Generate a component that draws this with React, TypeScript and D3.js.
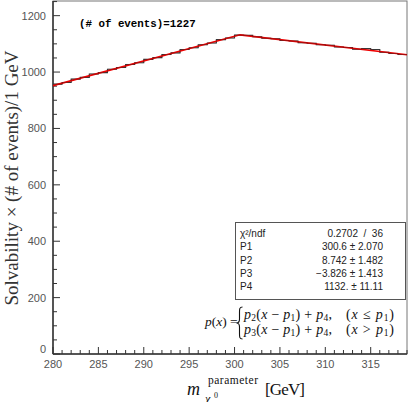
import React from "react";
import * as d3 from "d3";

const binEdgesStart = 280;
const binWidth = 1;
const histValues = [957, 963, 975, 981, 993, 998, 1010, 1016, 1027, 1033, 1045, 1051, 1062, 1068, 1080, 1086, 1097, 1103, 1115, 1121, 1131, 1130, 1125, 1120, 1118, 1112, 1110, 1104, 1102, 1097, 1095, 1089, 1087, 1081, 1083, 1080, 1070, 1066, 1062];
const fitParams = { p1: 300.6, p2: 8.742, p3: -3.826, p4: 1132 };
const xTicks = [280, 285, 290, 295, 300, 305, 310, 315];
const yTicks = [0, 200, 400, 600, 800, 1000, 1200];
const statsLabels = ["χ²/ndf", "P1", "P2", "P3", "P4"];
const statsValues = ["0.2702  /  36", "300.6 ± 2.070", "8.742 ± 1.482", "−3.826 ± 1.413", "1132. ± 11.11"];
const eventsText = "(# of events)=1227";

const W = 409, H = 402;
const L = 53, R = 407, T = 1, B = 354;

export default function App() {
  const x = d3.scaleLinear().domain([280, 319]).range([L, R]);
  const y = d3.scaleLinear().domain([0, 1252]).range([B, T]);

  let hp = "";
  histValues.forEach((v, i) => {
    const x0 = x(binEdgesStart + i * binWidth);
    const x1 = x(binEdgesStart + (i + 1) * binWidth);
    hp += (i === 0 ? `M${x0},${y(v)}` : `L${x0},${y(v)}`) + `L${x1},${y(v)}`;
  });

  const fit = (t: number) =>
    t <= fitParams.p1
      ? fitParams.p2 * (t - fitParams.p1) + fitParams.p4
      : fitParams.p3 * (t - fitParams.p1) + fitParams.p4;
  const fitPts: [number, number][] = [280, fitParams.p1, 319].map((t) => [x(t), y(fit(t))]);
  const fitPath = d3.line()(fitPts) || "";

  const xMinor = d3.range(280, 320, 1);
  const yMinor = d3.range(0, 1251, 50);

  const tickColor = "#333";
  const labelFont = "'Liberation Sans', Arial, sans-serif";
  const serif = "'Liberation Serif', 'Times New Roman', serif";
  const sub = 9.5;

  const bx = 239.5, bTop = 307, bBot = 339, bMid = (bTop + bBot) / 2;
  const brace = `M${bx + 3},${bTop} C${bx},${bTop} ${bx},${bTop + 2} ${bx},${bTop + 5} L${bx},${bMid - 4} C${bx},${bMid - 1} ${bx - 1},${bMid} ${bx - 3},${bMid} C${bx - 1},${bMid} ${bx},${bMid + 1} ${bx},${bMid + 4} L${bx},${bBot - 5} C${bx},${bBot - 2} ${bx},${bBot} ${bx + 3},${bBot}`;

  return (
    <svg width={W} height={H} style={{ position: "absolute", left: 0, top: 0, background: "#fff" }}>
      <rect x={L} y={T} width={R - L} height={B - T} fill="none" stroke="#777" strokeWidth={1} />
      {xMinor.map((t) => {
        const major = t % 5 === 0;
        return <line key={"xm" + t} x1={x(t)} x2={x(t)} y1={B} y2={B - (major ? 7 : 4)} stroke={tickColor} strokeWidth={1} />;
      })}
      {yMinor.map((t) => {
        const major = t % 200 === 0;
        return <line key={"ym" + t} x1={L} x2={L + (major ? 7 : 4)} y1={y(t)} y2={y(t)} stroke={tickColor} strokeWidth={1} />;
      })}
      <line x1={L} x2={R} y1={B} y2={B} stroke="#333" strokeWidth={1.5} />
      <line x1={L} x2={L} y1={T} y2={B} stroke="#333" strokeWidth={1.5} />
      {xTicks.map((t) => (
        <text key={"xl" + t} x={x(t)} y={368} textAnchor="middle" fontFamily={labelFont} fontSize={11} fill="#555">
          {t}
        </text>
      ))}
      {yTicks.map((t) => (
        <text key={"yl" + t} x={46} y={t === 0 ? y(t) - 1 : y(t) + 4} textAnchor="end" fontFamily={labelFont} fontSize={11} fill="#555">
          {t}
        </text>
      ))}
      <path d={hp} fill="none" stroke="#444" strokeWidth={1.1} />
      <path d={fitPath} fill="none" stroke="#e00" strokeWidth={1.6} />
      <path d={hp} fill="none" stroke="#222" strokeWidth={0.6} opacity={0.6} />
      <text x={79} y={27} fontFamily="'Liberation Mono', 'Courier New', monospace" fontWeight="bold" fontSize={10.8} fill="#000">
        {eventsText}
      </text>
      <rect x={235.5} y={222.5} width={170} height={77} fill="#fff" stroke="#555" strokeWidth={1} />
      {statsLabels.map((s, i) => (
        <text key={"sl" + i} x={240} y={237 + i * 13.3} fontFamily={labelFont} fontSize={10} fill="#222">
          {s}
        </text>
      ))}
      {statsValues.map((s, i) => (
        <text key={"sv" + i} x={383} y={237 + i * 13.3} textAnchor="end" fontFamily={labelFont} fontSize={10} fill="#222" style={{ whiteSpace: "pre" }}>
          {s}
        </text>
      ))}
      <g fontFamily={serif} fontSize={14} fill="#111">
        <text x={205} y={326} fontSize={13.5}>
          <tspan fontStyle="italic">p</tspan>(<tspan fontStyle="italic">x</tspan>) =
        </text>
        <path d={brace} fill="none" stroke="#111" strokeWidth={1.1} />
        <text x={244} y={319} textLength={88} lengthAdjust="spacing">
          <tspan fontStyle="italic">p</tspan>
          <tspan fontSize={sub} dy={2}>2</tspan>
          <tspan dy={-2}>(</tspan>
          <tspan fontStyle="italic">x</tspan> − <tspan fontStyle="italic">p</tspan>
          <tspan fontSize={sub} dy={2}>1</tspan>
          <tspan dy={-2}>) + </tspan>
          <tspan fontStyle="italic">p</tspan>
          <tspan fontSize={sub} dy={2}>4</tspan>
          <tspan dy={-2}>,</tspan>
        </text>
        <text x={346} y={319} textLength={48} lengthAdjust="spacing">
          (<tspan fontStyle="italic">x</tspan> ≤ <tspan fontStyle="italic">p</tspan>
          <tspan fontSize={sub} dy={2}>1</tspan>
          <tspan dy={-2}>)</tspan>
        </text>
        <text x={244} y={334} textLength={88} lengthAdjust="spacing">
          <tspan fontStyle="italic">p</tspan>
          <tspan fontSize={sub} dy={2}>3</tspan>
          <tspan dy={-2}>(</tspan>
          <tspan fontStyle="italic">x</tspan> − <tspan fontStyle="italic">p</tspan>
          <tspan fontSize={sub} dy={2}>1</tspan>
          <tspan dy={-2}>) + </tspan>
          <tspan fontStyle="italic">p</tspan>
          <tspan fontSize={sub} dy={2}>4</tspan>
          <tspan dy={-2}>,</tspan>
        </text>
        <text x={346} y={334} textLength={48} lengthAdjust="spacing">
          (<tspan fontStyle="italic">x</tspan> &gt; <tspan fontStyle="italic">p</tspan>
          <tspan fontSize={sub} dy={2}>1</tspan>
          <tspan dy={-2}>)</tspan>
        </text>
      </g>
      <text transform="translate(18,178) rotate(-90)" textAnchor="middle" fontFamily={serif} fontSize={19} fill="#333" style={{ whiteSpace: "pre" }}>
        {"Solvability × (# of events)/1 GeV"}
      </text>
      <g fontFamily={serif} fill="#111">
        <text x={187} y={395} fontSize={18} fontStyle="italic">m</text>
        <text x={205} y={403} fontSize={12} fontStyle="italic">χ</text>
        <text x={214} y={398} fontSize={8}>0</text>
        <text x={208} y={384} fontSize={11.5} textLength={50} lengthAdjust="spacing">parameter</text>
        <text x={265} y={395} fontSize={17} textLength={40} lengthAdjust="spacing">[GeV]</text>
      </g>
    </svg>
  );
}
